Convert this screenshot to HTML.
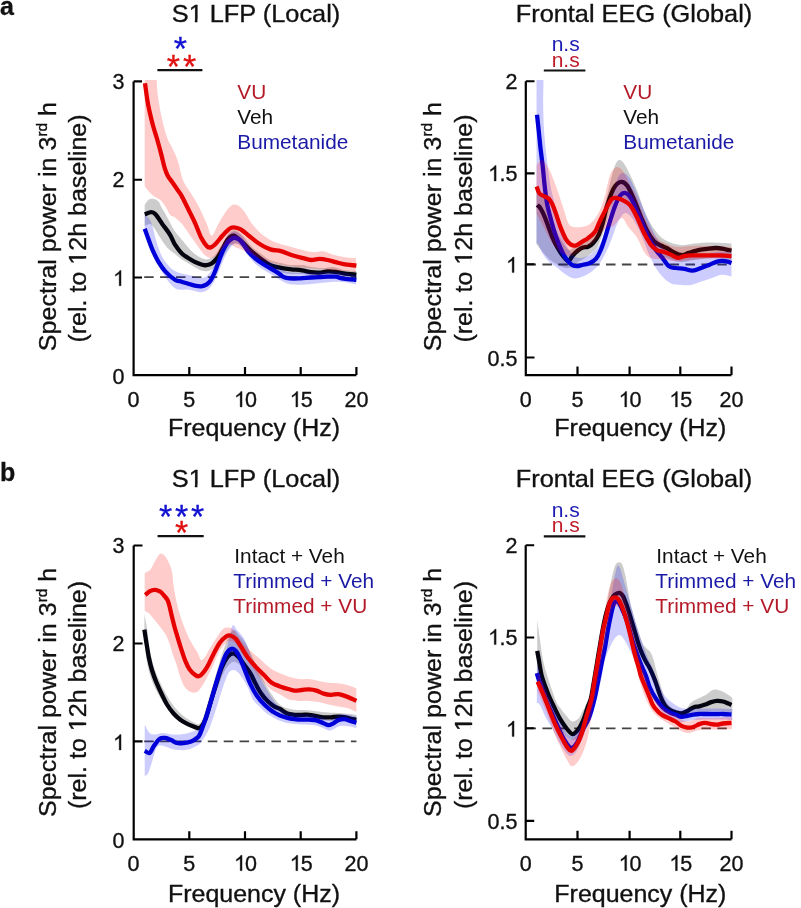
<!DOCTYPE html>
<html><head><meta charset="utf-8">
<style>
html,body{margin:0;padding:0;background:#fff;}
body{width:801px;height:908px;overflow:hidden;}
svg{display:block;font-family:"Liberation Sans",sans-serif;filter:blur(0.55px);}
.ax{stroke:#000;stroke-width:2.2;fill:none;stroke-linecap:butt;}
.tk{font-size:21.5px;fill:#111;stroke:#111;stroke-width:0.35px;}
.lb{font-size:24.6px;fill:#111;stroke:#111;stroke-width:0.35px;}
.lg{font-size:20.8px;stroke-width:0.35px;}
.dash{stroke:#555;stroke-width:1.6;stroke-dasharray:8 5;fill:none;}
.st{font-size:26px;}
</style></head>
<body>
<svg width="801" height="908" viewBox="0 0 801 908">
<defs>
<clipPath id="cAL"><rect x="134.7" y="80" width="222.8" height="294"/></clipPath>
<clipPath id="cAR"><rect x="526.9" y="80" width="205.70000000000005" height="294"/></clipPath>
<clipPath id="cBL"><rect x="134.8" y="540" width="222.7" height="298.20000000000005"/></clipPath>
<clipPath id="cBR"><rect x="526.8" y="540" width="205.80000000000007" height="298.20000000000005"/></clipPath>
</defs>
<g clip-path="url(#cAL)">
<path d="M144.2,277.1 H356.4" stroke="#444" stroke-width="1.8" stroke-dasharray="9.5 6.4" fill="none"/>
<path d="M144.7,205.0 C145.4,204.1 147.2,200.6 148.8,199.6 C150.4,198.6 152.5,198.7 154.1,199.0 C155.7,199.3 157.3,200.3 158.5,201.6 C159.7,202.8 159.8,204.3 161.1,206.5 C162.3,208.7 164.5,212.3 166.0,215.0 C167.5,217.7 168.5,219.8 170.0,222.5 C171.5,225.2 173.1,228.7 175.0,231.5 C176.9,234.3 179.4,236.8 181.6,239.4 C183.8,242.1 186.0,245.0 188.2,247.4 C190.4,249.8 192.6,252.2 194.8,254.0 C197.0,255.8 199.2,257.1 201.4,258.0 C203.6,258.9 205.8,259.8 208.0,259.3 C210.2,258.9 212.6,257.3 214.6,255.3 C216.6,253.3 218.1,250.1 219.9,247.4 C221.7,244.8 223.5,242.0 225.2,239.4 C226.9,236.8 228.2,233.5 230.0,232.0 C231.8,230.5 233.8,229.8 236.0,230.5 C238.2,231.2 240.5,233.4 243.0,236.0 C245.5,238.6 248.2,243.2 251.0,246.0 C253.8,248.8 256.8,250.7 260.0,253.0 C263.2,255.3 266.5,258.3 270.0,260.0 C273.5,261.7 277.5,262.2 281.0,263.0 C284.5,263.8 287.5,264.7 291.0,265.0 C294.5,265.3 298.5,264.7 302.0,265.0 C305.5,265.3 308.5,266.5 312.0,267.0 C315.5,267.5 319.5,268.0 323.0,268.0 C326.5,268.0 329.5,266.7 333.0,267.0 C336.5,267.3 340.2,269.3 344.0,270.0 C347.8,270.7 354.0,270.8 356.0,271.0 L356.0,279.0 C354.0,278.8 347.8,278.6 344.0,278.0 C340.2,277.4 336.5,275.8 333.0,275.5 C329.5,275.2 326.5,276.5 323.0,276.5 C319.5,276.5 315.5,275.9 312.0,275.5 C308.5,275.1 305.5,274.2 302.0,274.0 C298.5,273.8 294.5,274.2 291.0,274.0 C287.5,273.8 284.5,273.2 281.0,272.5 C277.5,271.8 273.5,271.6 270.0,270.0 C266.5,268.4 263.2,265.3 260.0,263.0 C256.8,260.7 253.8,258.5 251.0,256.0 C248.2,253.5 245.5,250.2 243.0,248.0 C240.5,245.8 238.2,243.3 236.0,243.0 C233.8,242.7 231.8,244.2 230.0,246.0 C228.2,247.8 226.7,251.3 225.0,254.0 C223.3,256.6 221.6,259.7 219.9,261.9 C218.2,264.1 216.6,265.7 214.6,267.2 C212.6,268.7 210.2,270.6 208.0,271.1 C205.8,271.7 203.6,271.1 201.4,270.5 C199.2,269.9 197.0,268.4 194.8,267.2 C192.6,266.0 190.4,264.5 188.2,263.2 C186.0,261.9 183.8,260.8 181.6,259.3 C179.4,257.8 177.3,255.8 175.0,254.0 C172.7,252.2 170.0,250.5 168.0,248.5 C166.0,246.5 164.6,244.2 163.0,242.0 C161.4,239.8 159.9,237.2 158.5,235.0 C157.1,232.8 155.9,230.3 154.5,228.5 C153.1,226.7 151.7,224.4 150.1,224.0 C148.5,223.6 145.6,225.7 144.7,226.0 Z" fill="#000" fill-opacity="0.2"/>
<path d="M144.7,214.3 C145.8,214.0 149.4,212.2 151.2,212.2 C153.0,212.2 153.6,212.3 155.5,214.3 C157.4,216.3 160.2,221.1 162.6,224.4 C165.0,227.8 167.7,231.0 169.8,234.4 C171.9,237.8 173.0,241.5 175.0,244.7 C177.0,247.8 179.4,251.1 181.6,253.3 C183.8,255.5 186.0,256.6 188.2,258.0 C190.4,259.4 192.6,260.8 194.8,261.9 C197.0,263.0 199.4,263.9 201.4,264.5 C203.4,265.1 204.9,265.4 206.7,265.2 C208.5,265.0 210.2,264.4 212.0,263.2 C213.8,262.0 215.5,260.3 217.3,257.9 C219.1,255.5 220.8,251.8 222.6,248.7 C224.3,245.6 226.0,241.6 227.8,239.4 C229.7,237.2 231.2,235.2 233.7,235.7 C236.1,236.2 239.6,239.8 242.5,242.4 C245.4,245.0 248.3,248.6 251.2,251.2 C254.1,253.8 256.8,255.9 260.0,258.2 C263.2,260.5 266.9,263.6 270.4,265.2 C273.9,266.8 277.5,267.1 281.0,267.8 C284.5,268.5 287.9,268.9 291.4,269.3 C294.9,269.7 298.6,269.9 301.9,270.4 C305.2,270.9 308.3,271.8 311.2,272.2 C314.1,272.6 316.7,272.7 319.4,272.6 C322.1,272.5 324.8,271.5 327.5,271.4 C330.2,271.3 332.9,271.5 335.6,271.8 C338.3,272.1 340.2,272.9 343.7,273.4 C347.2,273.9 354.3,274.4 356.4,274.6" stroke="#050510" stroke-width="4.3" fill="none" stroke-linejoin="round" stroke-linecap="butt"/>
<path d="M144.7,215.7 C145.2,216.0 146.9,216.4 148.0,217.5 C149.1,218.6 150.1,219.9 151.0,222.0 C151.9,224.1 152.7,227.0 153.5,230.0 C154.3,233.0 154.9,236.3 156.0,240.0 C157.1,243.7 158.4,248.3 160.0,252.0 C161.6,255.7 163.0,258.8 165.5,262.0 C168.0,265.2 171.2,268.9 175.0,271.1 C178.8,273.3 183.8,274.0 188.2,275.1 C192.6,276.2 198.3,277.7 201.4,277.8 C204.5,277.9 205.3,277.3 207.0,276.0 C208.7,274.7 210.0,272.3 211.5,270.0 C213.0,267.7 214.6,265.0 216.0,262.0 C217.4,259.0 218.7,255.2 220.0,252.0 C221.3,248.8 222.5,245.8 224.0,243.0 C225.5,240.2 227.2,236.9 229.0,235.0 C230.8,233.1 232.6,231.5 234.6,231.5 C236.6,231.5 238.8,232.8 241.0,235.0 C243.2,237.2 245.6,242.1 248.0,245.0 C250.4,247.9 252.9,250.3 255.4,252.5 C257.9,254.7 260.4,256.3 263.0,258.0 C265.6,259.7 268.2,261.0 270.8,262.5 C273.4,264.0 276.0,265.5 278.5,267.0 C281.0,268.5 283.4,270.6 286.0,271.5 C288.6,272.4 290.8,272.3 294.0,272.5 C297.2,272.7 300.6,272.6 305.4,272.5 C310.2,272.4 317.1,272.1 322.9,272.0 C328.7,271.9 334.9,271.5 340.4,272.0 C345.9,272.5 353.5,274.5 356.1,275.0 L356.1,284.4 C353.5,284.0 345.9,282.1 340.4,281.8 C334.9,281.5 328.7,282.2 322.9,282.7 C317.1,283.1 310.2,284.2 305.4,284.5 C300.6,284.8 297.2,284.7 294.0,284.5 C290.8,284.3 288.9,284.1 286.3,283.2 C283.7,282.3 281.1,280.5 278.5,279.0 C275.9,277.5 273.4,275.6 270.8,274.0 C268.2,272.4 265.6,271.2 263.0,269.5 C260.4,267.8 257.9,266.3 255.4,264.0 C252.9,261.7 250.4,258.5 248.0,255.5 C245.6,252.5 243.2,247.9 241.0,246.0 C238.8,244.1 236.8,243.2 234.6,244.0 C232.4,244.8 229.9,248.2 228.0,251.0 C226.1,253.8 224.5,257.7 223.0,261.0 C221.5,264.3 220.4,267.8 219.0,271.0 C217.6,274.2 216.2,277.5 214.6,280.4 C213.0,283.3 211.5,286.3 209.3,288.3 C207.1,290.3 204.9,292.1 201.4,292.3 C197.9,292.5 192.6,290.3 188.2,289.6 C183.8,288.9 179.3,291.1 175.0,288.3 C170.7,285.5 166.1,278.4 162.6,273.0 C159.1,267.6 157.0,262.0 154.0,255.8 C151.0,249.6 146.2,239.3 144.7,236.0 Z" fill="#0000ff" fill-opacity="0.2"/>
<path d="M144.7,228.7 C145.3,230.4 147.0,235.1 148.3,238.7 C149.6,242.3 150.9,246.3 152.6,250.1 C154.3,253.9 156.2,258.0 158.3,261.6 C160.5,265.2 162.7,268.6 165.5,271.6 C168.3,274.6 172.3,278.0 175.0,279.7 C177.7,281.4 179.4,281.0 181.6,281.7 C183.8,282.4 186.0,283.0 188.2,283.7 C190.4,284.4 192.6,285.3 194.8,285.7 C197.0,286.1 199.4,286.5 201.4,286.3 C203.4,286.1 205.1,285.4 206.7,284.4 C208.2,283.4 209.4,282.4 210.7,280.4 C212.0,278.4 213.3,275.6 214.6,272.5 C215.9,269.4 217.3,265.4 218.6,261.9 C219.9,258.4 221.1,254.6 222.6,251.3 C224.1,248.0 226.1,244.3 227.8,242.1 C229.6,239.9 231.8,238.8 233.1,238.1 C234.4,237.4 234.1,237.6 235.4,238.0 C236.7,238.4 238.6,238.6 240.7,240.7 C242.8,242.8 245.2,247.8 247.7,250.8 C250.1,253.8 252.8,256.3 255.4,258.5 C258.0,260.7 260.5,262.3 263.1,264.0 C265.7,265.7 268.2,267.1 270.8,268.6 C273.4,270.1 276.6,271.9 278.5,273.2 C280.4,274.5 281.1,275.5 282.4,276.3 C283.7,277.1 284.4,277.4 286.3,277.8 C288.2,278.2 291.7,278.5 294.0,278.6 C296.3,278.7 297.1,278.5 300.0,278.3 C302.9,278.1 308.0,277.7 311.2,277.5 C314.4,277.3 316.7,277.2 319.4,277.1 C322.1,277.0 324.8,276.8 327.5,276.7 C330.2,276.6 332.9,276.4 335.6,276.7 C338.3,277.0 340.2,278.2 343.7,278.7 C347.2,279.2 354.3,279.7 356.4,279.9" stroke="#0000d8" stroke-width="4.3" fill="none" stroke-linejoin="round" stroke-linecap="butt"/>
<path d="M144.7,70.0 C146.4,70.0 152.7,65.9 154.9,70.0 C157.1,74.1 156.6,86.7 157.7,94.5 C158.8,102.3 159.9,109.4 161.5,116.6 C163.1,123.8 165.2,132.2 167.1,137.5 C168.9,142.8 170.8,144.5 172.6,148.5 C174.4,152.5 176.4,156.4 178.1,161.7 C179.8,166.9 180.8,174.8 182.9,180.0 C185.0,185.2 188.2,188.8 190.9,193.2 C193.6,197.6 196.2,201.3 198.8,206.4 C201.4,211.5 204.7,218.8 206.7,223.6 C208.7,228.4 209.5,233.4 210.7,235.0 C211.9,236.6 212.7,234.9 214.0,233.0 C215.3,231.1 216.3,227.6 218.6,223.6 C220.9,219.6 225.1,212.2 227.8,209.0 C230.5,205.8 232.2,204.5 234.6,204.5 C237.0,204.5 239.4,205.8 242.5,209.2 C245.6,212.6 249.5,220.6 253.0,225.0 C256.5,229.4 259.7,232.6 263.5,235.5 C267.3,238.4 271.6,240.8 275.7,242.5 C279.8,244.2 283.9,244.8 288.0,246.0 C292.1,247.2 296.1,248.4 300.2,249.4 C304.3,250.4 308.6,251.7 312.4,252.0 C316.2,252.3 319.4,250.8 322.9,251.2 C326.4,251.6 329.6,253.7 333.4,254.7 C337.2,255.7 341.8,256.7 345.6,257.3 C349.4,257.9 354.4,258.1 356.1,258.2 L356.1,272.0 C353.4,271.8 345.5,271.4 340.0,271.0 C334.5,270.6 327.7,269.9 323.0,269.5 C318.3,269.1 315.8,268.8 312.0,268.5 C308.2,268.2 303.7,267.8 300.0,267.5 C296.3,267.2 293.3,266.9 290.0,266.5 C286.7,266.1 283.3,265.7 280.0,265.0 C276.7,264.3 273.3,263.5 270.0,262.5 C266.7,261.5 263.3,260.5 260.0,259.0 C256.7,257.5 253.3,255.2 250.0,253.5 C246.7,251.8 242.5,250.1 240.0,249.0 C237.5,247.9 236.6,247.8 235.0,247.0 C233.4,246.2 232.1,244.7 230.5,244.5 C228.9,244.3 227.2,244.4 225.2,246.0 C223.2,247.6 220.8,252.0 218.6,254.0 C216.4,256.0 214.0,257.6 212.0,258.0 C210.0,258.4 208.5,257.7 206.7,256.6 C204.9,255.5 203.4,253.7 201.4,251.3 C199.4,248.9 197.0,245.2 194.8,242.1 C192.6,239.0 190.4,235.9 188.2,232.8 C186.0,229.7 183.8,226.2 181.6,223.6 C179.4,221.0 176.9,219.0 175.0,217.5 C173.1,216.0 171.4,216.4 170.0,214.8 C168.6,213.2 167.9,210.5 166.4,208.2 C164.9,205.8 162.8,202.4 161.1,200.7 C159.4,199.0 158.0,198.8 156.5,197.8 C155.0,196.9 153.7,196.2 152.3,195.0 C150.9,193.8 149.3,192.0 148.0,190.5 C146.7,189.0 145.2,186.8 144.7,186.0 Z" fill="#ff0000" fill-opacity="0.2"/>
<path d="M145.0,83.3 C145.4,86.0 146.5,94.8 147.3,99.8 C148.1,104.8 148.9,108.6 149.9,113.0 C150.9,117.4 152.0,121.9 153.2,126.3 C154.4,130.7 155.9,134.9 157.2,139.5 C158.5,144.1 160.0,149.5 161.2,154.1 C162.4,158.7 163.4,163.7 164.5,167.3 C165.6,170.9 166.3,173.0 167.6,175.5 C168.9,178.0 170.8,180.0 172.5,182.5 C174.2,185.0 176.5,188.3 178.0,190.5 C179.5,192.7 179.9,192.8 181.6,195.9 C183.3,199.0 186.0,204.6 188.2,209.0 C190.4,213.4 192.6,217.5 194.8,222.3 C197.0,227.2 199.4,234.2 201.4,238.1 C203.4,242.0 205.1,244.4 206.7,246.0 C208.2,247.6 209.1,247.8 210.7,247.4 C212.2,247.0 214.0,245.4 216.0,243.4 C218.0,241.4 220.4,237.9 222.6,235.5 C224.8,233.1 227.3,230.3 229.2,228.9 C231.0,227.5 231.8,227.2 233.7,227.3 C235.6,227.4 238.1,227.8 240.7,229.3 C243.3,230.8 246.3,233.8 249.5,236.3 C252.7,238.8 256.5,242.0 260.0,244.2 C263.5,246.4 266.9,248.2 270.4,249.4 C273.9,250.6 277.4,250.3 280.9,251.2 C284.4,252.1 287.9,253.9 291.4,255.0 C294.9,256.1 298.6,257.0 301.9,257.8 C305.2,258.6 308.3,259.8 311.2,260.0 C314.1,260.2 316.7,258.8 319.4,258.8 C322.1,258.8 324.8,259.4 327.5,260.0 C330.2,260.6 332.9,261.4 335.6,262.1 C338.3,262.8 340.2,263.5 343.7,264.1 C347.2,264.7 354.3,265.4 356.4,265.7" stroke="#e60000" stroke-width="4.3" fill="none" stroke-linejoin="round" stroke-linecap="butt"/>
</g>
<g clip-path="url(#cAR)">
<path d="M526.5,264.5 H731.5" stroke="#444" stroke-width="1.8" stroke-dasharray="9.5 6.4" fill="none"/>
<path d="M536.5,190.0 C537.4,190.8 540.1,191.7 542.0,195.0 C543.9,198.3 545.8,204.5 548.0,210.0 C550.2,215.5 552.5,222.5 555.0,228.0 C557.5,233.5 560.5,239.3 563.0,243.0 C565.5,246.7 567.5,250.0 570.0,250.0 C572.5,250.0 575.0,245.0 578.0,243.0 C581.0,241.0 584.7,241.0 588.0,238.0 C591.3,235.0 595.0,231.3 598.0,225.0 C601.0,218.7 603.7,208.3 606.0,200.0 C608.3,191.7 610.2,181.4 612.0,175.0 C613.8,168.6 615.2,164.1 616.9,161.8 C618.5,159.5 619.9,159.3 621.9,161.0 C623.9,162.7 626.2,167.0 628.7,171.9 C631.2,176.8 634.3,183.5 637.1,190.5 C639.9,197.5 642.4,207.2 645.5,214.0 C648.6,220.8 652.4,226.7 655.6,231.0 C658.9,235.3 660.9,237.7 665.0,240.0 C669.1,242.3 675.2,244.4 680.0,245.0 C684.8,245.6 688.8,243.9 694.0,243.5 C699.2,243.1 704.8,242.5 711.0,242.5 C717.2,242.5 728.1,243.3 731.5,243.5 L731.5,260.0 C728.1,259.7 717.2,258.0 711.0,258.0 C704.8,258.0 699.0,259.3 694.0,260.0 C689.0,260.7 685.5,262.3 681.0,262.0 C676.5,261.7 671.3,259.7 667.0,258.0 C662.7,256.3 658.2,254.3 655.0,252.0 C651.8,249.7 650.3,248.0 648.0,244.0 C645.7,240.0 643.3,233.3 641.0,228.0 C638.7,222.7 636.3,216.7 634.0,212.0 C631.7,207.3 629.3,202.3 627.0,200.0 C624.7,197.7 622.3,197.5 620.0,198.0 C617.7,198.5 615.3,198.7 613.0,203.0 C610.7,207.3 608.5,216.8 606.0,224.0 C603.5,231.2 601.0,240.7 598.0,246.0 C595.0,251.3 591.3,253.3 588.0,256.0 C584.7,258.7 580.7,260.2 578.0,262.0 C575.3,263.8 574.0,266.0 572.0,267.0 C570.0,268.0 568.0,268.2 566.0,268.0 C564.0,267.8 562.2,267.0 560.0,266.0 C557.8,265.0 555.2,263.5 553.0,262.0 C550.8,260.5 549.0,259.0 547.0,257.0 C545.0,255.0 542.8,252.2 541.0,250.0 C539.2,247.8 537.2,245.0 536.5,244.0 Z" fill="#000" fill-opacity="0.2"/>
<path d="M537.2,205.0 C537.8,205.6 539.3,206.4 540.5,208.3 C541.7,210.2 543.2,213.2 544.5,216.3 C545.8,219.4 547.2,223.4 548.5,226.9 C549.8,230.4 550.9,233.9 552.4,237.4 C553.9,240.9 555.9,244.9 557.7,248.0 C559.5,251.1 561.2,253.8 563.0,256.0 C564.8,258.2 566.8,261.2 568.3,261.2 C569.8,261.2 570.8,257.8 572.3,256.0 C573.8,254.2 575.8,252.1 577.6,250.7 C579.4,249.3 581.1,248.1 582.9,247.4 C584.6,246.7 586.4,247.5 588.1,246.7 C589.9,245.9 591.6,244.7 593.4,242.7 C595.2,240.7 597.1,238.2 598.7,234.8 C600.3,231.4 601.6,226.8 603.0,222.0 C604.4,217.2 605.2,211.5 607.0,206.0 C608.8,200.5 611.3,192.8 613.5,188.8 C615.7,184.8 618.0,182.6 620.2,182.0 C622.5,181.4 624.8,182.6 627.0,185.4 C629.2,188.2 631.5,193.8 633.7,198.9 C636.0,204.0 638.2,210.5 640.5,215.8 C642.8,221.2 645.0,226.8 647.2,231.0 C649.5,235.2 651.8,238.7 654.0,241.1 C656.2,243.5 658.5,244.3 660.7,245.5 C663.0,246.7 665.2,247.3 667.5,248.5 C669.8,249.7 672.3,251.5 674.2,252.5 C676.1,253.5 677.2,254.1 678.7,254.5 C680.2,254.9 681.8,255.2 683.4,255.0 C685.0,254.8 685.8,253.9 688.1,253.1 C690.5,252.3 694.4,251.0 697.5,250.3 C700.6,249.6 703.7,249.3 706.8,248.9 C709.9,248.5 713.1,247.9 716.2,248.0 C719.3,248.1 723.0,248.9 725.5,249.3 C728.0,249.8 730.5,250.5 731.5,250.7" stroke="#050510" stroke-width="4.3" fill="none" stroke-linejoin="round" stroke-linecap="butt"/>
<path d="M536.5,70.0 C537.6,70.0 541.9,64.2 543.0,70.0 C544.1,75.8 543.0,94.8 543.2,105.0 C543.4,115.2 543.5,122.6 544.1,131.4 C544.7,140.2 545.7,149.1 546.7,157.9 C547.7,166.7 549.2,177.8 550.3,184.3 C551.3,190.8 551.8,191.7 553.0,197.0 C554.2,202.3 556.0,209.8 557.7,216.3 C559.4,222.8 561.2,230.6 563.0,236.1 C564.8,241.6 566.1,245.8 568.3,249.3 C570.5,252.8 573.6,256.0 576.2,257.3 C578.9,258.6 581.6,258.0 584.2,257.3 C586.9,256.6 589.5,255.5 592.1,253.3 C594.7,251.1 597.7,247.9 600.0,244.0 C602.3,240.1 604.3,235.3 606.0,230.0 C607.7,224.7 608.7,218.7 610.0,212.0 C611.3,205.3 612.3,196.3 614.0,190.0 C615.7,183.7 617.8,176.2 620.2,174.0 C622.7,171.8 625.9,173.7 628.7,177.0 C631.5,180.3 634.4,188.0 637.1,193.8 C639.8,199.6 642.0,205.1 645.0,212.0 C648.0,218.9 651.2,228.3 655.0,235.0 C658.8,241.7 662.6,248.3 667.5,252.0 C672.4,255.7 678.7,256.5 684.3,257.0 C689.9,257.5 695.6,255.8 701.2,255.0 C706.8,254.2 713.0,252.5 718.0,252.0 C723.0,251.5 729.2,252.0 731.5,252.0 L731.5,276.5 C729.8,276.2 724.8,274.5 721.4,274.8 C718.0,275.1 714.7,277.1 711.3,278.2 C707.9,279.3 704.6,280.4 701.2,281.5 C697.8,282.6 694.5,284.3 691.1,284.9 C687.7,285.5 684.3,285.2 680.9,284.9 C677.5,284.6 674.2,284.9 670.8,283.2 C667.4,281.5 664.1,279.0 660.7,274.8 C657.3,270.6 654.1,265.1 650.6,258.0 C647.1,250.9 643.1,238.7 640.0,232.0 C636.9,225.3 634.5,221.2 632.0,218.0 C629.5,214.8 627.3,212.3 625.0,213.0 C622.7,213.7 620.2,217.8 618.0,222.0 C615.8,226.2 613.7,233.7 612.0,238.0 C610.3,242.3 609.5,244.7 608.0,248.0 C606.5,251.3 604.8,254.9 603.0,258.0 C601.2,261.1 599.6,264.0 597.4,266.5 C595.1,269.0 592.1,271.3 589.5,273.1 C586.9,274.9 584.1,276.2 581.5,277.1 C578.9,278.0 576.2,278.8 573.6,278.4 C571.0,278.0 568.4,276.2 565.7,274.5 C563.1,272.8 560.4,269.9 557.7,267.9 C555.1,265.9 552.2,264.8 549.8,262.6 C547.4,260.4 545.2,257.7 543.2,254.6 C541.2,251.5 539.0,245.8 537.9,244.0 C536.8,242.2 536.7,244.0 536.5,244.0 Z" fill="#0000ff" fill-opacity="0.2"/>
<path d="M537.0,114.7 C537.3,117.5 538.2,125.7 538.8,131.4 C539.4,137.1 539.9,143.1 540.6,149.0 C541.3,154.9 542.1,160.8 542.8,166.7 C543.4,172.6 543.8,178.0 544.5,184.3 C545.2,190.6 546.0,198.2 547.2,204.4 C548.4,210.6 550.1,216.3 551.5,221.6 C552.9,226.9 554.1,231.2 555.8,236.0 C557.5,240.8 559.6,246.2 561.5,250.3 C563.4,254.4 565.3,257.8 567.2,260.3 C569.1,262.8 571.1,264.6 573.0,265.5 C574.9,266.4 577.0,266.1 578.7,266.0 C580.4,265.9 581.2,265.3 583.0,264.8 C584.8,264.3 587.3,264.2 589.5,263.2 C591.7,262.2 594.2,260.9 596.1,258.6 C598.0,256.3 599.5,253.0 601.0,249.5 C602.5,246.0 603.6,242.5 605.1,237.7 C606.6,232.9 608.4,226.2 610.1,220.8 C611.8,215.5 613.5,209.8 615.2,205.6 C616.9,201.4 618.5,197.6 620.2,195.5 C621.9,193.4 623.6,192.7 625.3,193.0 C627.0,193.3 628.7,194.8 630.4,197.2 C632.1,199.6 633.4,203.1 635.4,207.3 C637.4,211.5 640.0,217.4 642.2,222.5 C644.5,227.6 646.7,233.2 648.9,237.7 C651.1,242.2 653.4,246.1 655.6,249.5 C657.9,252.9 660.1,255.1 662.4,257.9 C664.6,260.7 666.9,264.7 669.1,266.4 C671.4,268.1 673.4,267.6 675.9,268.0 C678.4,268.4 681.5,268.5 684.3,268.9 C687.1,269.3 689.9,270.8 692.7,270.6 C695.5,270.5 698.4,269.0 701.2,268.0 C704.0,267.0 706.8,265.8 709.6,264.7 C712.4,263.6 715.2,261.9 718.0,261.3 C720.8,260.7 724.2,261.0 726.5,261.3 C728.8,261.6 730.7,262.7 731.5,263.0" stroke="#0000d8" stroke-width="4.3" fill="none" stroke-linejoin="round" stroke-linecap="butt"/>
<path d="M536.5,165.0 C537.4,164.2 540.0,159.5 542.0,160.0 C544.0,160.5 546.1,163.5 548.5,168.0 C550.9,172.5 554.0,180.7 556.4,187.2 C558.8,193.7 561.0,201.1 563.0,207.0 C565.0,212.9 566.5,219.6 568.3,222.9 C570.1,226.2 571.4,226.2 573.6,226.9 C575.8,227.6 578.9,227.4 581.5,226.9 C584.1,226.4 586.9,226.2 589.5,224.2 C592.1,222.2 595.0,219.2 597.4,215.0 C599.8,210.8 601.9,205.7 604.0,199.0 C606.1,192.3 608.0,180.3 610.1,175.0 C612.2,169.7 614.6,167.5 616.9,167.0 C619.1,166.5 621.4,169.0 623.6,172.0 C625.8,175.0 627.8,180.7 630.0,185.0 C632.2,189.3 634.5,192.5 637.0,198.0 C639.5,203.5 642.0,211.7 645.0,218.0 C648.0,224.3 651.7,231.8 655.0,236.0 C658.3,240.2 661.3,241.2 665.0,243.0 C668.7,244.8 672.7,246.5 677.0,247.0 C681.3,247.5 685.3,246.2 691.0,246.0 C696.7,245.8 704.2,245.8 711.0,246.0 C717.8,246.2 728.1,246.8 731.5,247.0 L731.5,258.5 C728.1,258.5 717.8,258.2 711.0,258.5 C704.2,258.8 696.7,259.5 691.0,260.0 C685.3,260.5 681.5,261.6 677.0,261.5 C672.5,261.4 668.4,260.1 664.0,259.5 C659.6,258.9 654.0,259.4 650.6,258.0 C647.2,256.6 646.0,254.6 643.8,251.2 C641.5,247.8 639.6,241.6 637.1,237.7 C634.6,233.8 631.2,230.9 628.7,227.6 C626.2,224.3 624.4,218.3 621.9,218.0 C619.4,217.7 616.1,224.3 613.5,226.0 C610.9,227.7 609.1,225.6 606.0,228.2 C602.9,230.8 598.0,238.3 594.8,241.4 C591.6,244.5 589.4,244.9 586.8,246.7 C584.1,248.5 581.5,250.4 578.9,252.0 C576.3,253.6 573.6,255.7 571.0,256.0 C568.4,256.3 565.2,255.0 563.0,254.0 C560.8,253.0 559.8,251.8 558.0,250.0 C556.2,248.2 554.0,246.0 552.0,243.0 C550.0,240.0 547.8,235.5 546.0,232.0 C544.2,228.5 542.6,225.0 541.0,222.0 C539.4,219.0 537.2,215.3 536.5,214.0 Z" fill="#ff0000" fill-opacity="0.2"/>
<path d="M536.6,186.5 C537.0,187.6 538.1,191.5 539.2,193.1 C540.3,194.7 541.7,194.9 543.2,195.8 C544.8,196.7 547.0,197.0 548.5,198.4 C550.0,199.8 551.1,201.6 552.4,204.4 C553.7,207.2 555.1,211.2 556.4,215.0 C557.7,218.8 558.8,222.9 560.4,226.9 C562.0,230.9 563.9,235.8 565.7,238.8 C567.5,241.8 569.2,243.6 571.0,244.7 C572.8,245.8 574.5,245.8 576.2,245.4 C578.0,245.0 579.5,243.3 581.5,242.1 C583.5,240.9 585.9,239.8 588.1,238.1 C590.3,236.4 592.8,234.9 594.8,232.1 C596.8,229.2 598.0,225.0 600.0,221.0 C602.0,217.0 604.5,211.7 606.5,208.0 C608.5,204.3 610.1,200.6 611.8,198.9 C613.5,197.2 614.9,197.8 616.9,198.1 C618.9,198.4 621.4,199.3 623.6,200.6 C625.9,201.8 628.1,202.8 630.4,205.6 C632.6,208.4 634.9,213.0 637.1,217.5 C639.3,222.0 641.5,228.1 643.8,232.6 C646.0,237.1 648.4,241.4 650.6,244.4 C652.9,247.4 655.0,249.0 657.3,250.3 C659.5,251.6 661.9,251.3 664.1,252.0 C666.4,252.7 668.5,253.6 670.8,254.6 C673.0,255.6 675.4,257.6 677.6,257.9 C679.9,258.2 682.0,256.6 684.3,256.2 C686.5,255.8 688.3,255.5 691.1,255.4 C693.9,255.3 697.8,255.4 701.2,255.4 C704.6,255.4 707.9,255.4 711.3,255.4 C714.7,255.4 718.0,255.3 721.4,255.4 C724.8,255.5 729.8,256.1 731.5,256.2" stroke="#e60000" stroke-width="4.3" fill="none" stroke-linejoin="round" stroke-linecap="butt"/>
</g>
<g clip-path="url(#cBL)">
<path d="M144.2,741.3 H356.4" stroke="#444" stroke-width="1.8" stroke-dasharray="9.5 6.4" fill="none"/>
<path d="M144.4,614.0 C144.8,616.3 146.2,622.8 147.0,628.0 C147.8,633.2 148.2,640.0 149.0,645.0 C149.8,650.0 150.5,653.8 151.5,658.0 C152.5,662.2 153.6,666.0 155.0,670.0 C156.4,674.0 158.2,678.0 160.0,682.0 C161.8,686.0 163.8,690.2 166.0,694.0 C168.2,697.8 170.7,701.8 173.0,705.0 C175.3,708.2 177.7,710.8 180.0,713.0 C182.3,715.2 184.8,717.0 187.0,718.5 C189.2,720.0 191.0,721.1 193.0,722.0 C195.0,722.9 197.3,724.7 199.0,724.0 C200.7,723.3 201.8,720.7 203.0,718.0 C204.2,715.3 204.5,713.0 206.0,708.0 C207.5,703.0 209.8,695.3 212.0,688.0 C214.2,680.7 216.7,671.5 219.0,664.0 C221.3,656.5 223.6,648.7 226.0,643.0 C228.4,637.3 230.9,631.2 233.2,630.0 C235.5,628.8 237.9,633.8 240.0,636.0 C242.1,638.2 243.5,639.7 245.5,643.0 C247.5,646.3 249.8,651.3 252.0,656.0 C254.2,660.7 256.7,666.2 259.0,671.0 C261.3,675.8 263.6,680.7 266.0,685.0 C268.4,689.3 271.0,693.6 273.5,697.0 C276.0,700.4 277.9,703.4 281.0,705.5 C284.1,707.6 288.2,708.6 292.1,709.4 C296.0,710.1 300.1,709.7 304.2,710.0 C308.2,710.3 312.3,710.8 316.4,711.2 C320.4,711.6 324.5,712.1 328.5,712.4 C332.5,712.7 336.0,712.6 340.6,713.0 C345.2,713.4 353.8,714.5 356.4,714.8 L356.4,723.5 C354.5,723.1 349.4,721.4 345.0,721.0 C340.6,720.6 334.8,721.2 330.0,721.0 C325.2,720.8 320.7,719.9 316.0,719.5 C311.3,719.1 306.3,718.8 302.0,718.5 C297.7,718.2 293.5,718.4 290.0,717.5 C286.5,716.6 284.0,714.6 281.0,713.0 C278.0,711.4 274.8,710.0 272.0,708.0 C269.2,706.0 266.7,704.0 264.0,701.0 C261.3,698.0 258.5,693.8 256.0,690.0 C253.5,686.2 251.2,681.7 249.0,678.0 C246.8,674.3 245.3,670.7 243.0,668.0 C240.7,665.3 237.2,662.7 235.0,662.0 C232.8,661.3 231.8,662.3 230.0,664.0 C228.2,665.7 226.2,667.7 224.0,672.0 C221.8,676.3 219.3,683.7 217.0,690.0 C214.7,696.3 211.8,704.7 210.0,710.0 C208.2,715.3 207.2,718.8 206.0,722.0 C204.8,725.2 204.2,727.4 203.0,729.0 C201.8,730.6 200.4,731.5 198.7,731.5 C197.0,731.5 194.9,729.9 193.0,729.0 C191.1,728.1 189.0,727.2 187.0,726.0 C185.0,724.8 183.2,723.6 181.0,722.0 C178.8,720.4 176.3,718.8 174.0,716.5 C171.7,714.2 169.2,711.4 167.0,708.5 C164.8,705.6 163.0,702.4 161.0,699.0 C159.0,695.6 156.8,691.7 155.0,688.0 C153.2,684.3 151.8,680.8 150.5,677.0 C149.2,673.2 148.3,669.2 147.5,665.0 C146.7,660.8 146.0,656.2 145.5,652.0 C145.0,647.8 144.6,642.0 144.4,640.0 Z" fill="#000" fill-opacity="0.2"/>
<path d="M144.4,629.7 C144.6,630.9 145.1,634.6 145.5,637.0 C145.9,639.4 146.0,640.6 146.6,644.0 C147.2,647.4 147.9,652.9 148.8,657.3 C149.7,661.7 150.8,666.3 152.1,670.5 C153.4,674.7 154.8,678.6 156.5,682.6 C158.2,686.6 160.2,691.1 162.0,694.7 C163.8,698.4 165.1,701.4 167.0,704.5 C168.9,707.6 171.4,711.0 173.6,713.5 C175.8,716.0 177.8,717.8 180.0,719.5 C182.2,721.2 184.6,722.5 186.8,723.6 C189.0,724.7 191.0,725.5 193.0,726.3 C195.0,727.0 197.3,728.1 198.7,728.1 C200.1,728.1 200.3,728.1 201.5,726.5 C202.7,724.9 204.1,723.0 205.7,718.7 C207.3,714.5 209.2,707.0 211.0,701.0 C212.8,695.0 214.7,688.7 216.5,683.0 C218.3,677.3 220.2,671.3 222.0,667.0 C223.8,662.7 225.7,659.3 227.5,657.0 C229.3,654.7 231.3,653.4 233.1,653.4 C234.9,653.4 236.7,655.2 238.5,657.0 C240.3,658.8 241.7,661.3 243.7,664.0 C245.7,666.7 248.3,669.9 250.3,673.2 C252.3,676.5 253.8,680.5 255.6,683.8 C257.4,687.1 258.8,690.1 260.8,693.0 C262.8,695.9 265.3,698.8 267.5,701.0 C269.7,703.2 272.0,705.0 274.1,706.3 C276.2,707.6 277.8,707.7 280.0,708.9 C282.2,710.1 284.9,712.6 287.3,713.6 C289.7,714.6 292.1,714.6 294.5,714.8 C296.9,715.0 299.4,714.8 301.8,714.8 C304.2,714.8 306.7,714.6 309.1,714.8 C311.5,715.0 314.0,715.7 316.4,716.1 C318.8,716.5 321.2,717.1 323.6,717.3 C326.0,717.5 328.5,717.4 330.9,717.3 C333.3,717.2 335.8,716.7 338.2,716.7 C340.6,716.7 343.1,716.9 345.5,717.3 C347.9,717.7 350.9,718.7 352.7,719.1 C354.5,719.5 355.8,719.6 356.4,719.7" stroke="#050510" stroke-width="4.3" fill="none" stroke-linejoin="round" stroke-linecap="butt"/>
<path d="M144.7,724.4 C145.5,725.8 147.9,731.3 149.7,733.0 C151.5,734.7 153.3,734.4 155.5,734.4 C157.7,734.4 160.0,733.0 162.6,733.0 C165.2,733.0 168.3,734.2 171.2,734.4 C174.1,734.6 176.9,734.6 179.8,734.4 C182.7,734.2 185.6,733.7 188.4,733.0 C191.2,732.3 195.0,731.1 196.9,730.1 C198.8,729.1 198.5,729.4 200.0,727.0 C201.5,724.6 203.3,721.7 205.7,716.0 C208.1,710.3 211.7,701.4 214.3,693.0 C216.9,684.6 219.3,673.4 221.5,665.8 C223.7,658.2 225.4,653.8 227.2,647.2 C229.0,640.6 230.7,628.9 232.3,626.0 C233.9,623.1 234.9,627.9 236.7,629.7 C238.5,631.5 241.2,634.3 243.0,637.0 C244.8,639.7 245.8,641.7 247.5,646.0 C249.2,650.3 251.1,657.2 253.5,663.0 C255.9,668.8 258.9,675.2 262.0,681.0 C265.1,686.8 268.8,693.3 272.0,698.0 C275.2,702.7 278.0,706.6 281.0,709.0 C284.0,711.4 286.5,711.7 290.0,712.5 C293.5,713.3 297.7,713.6 302.0,714.0 C306.3,714.4 312.3,714.3 316.0,715.0 C319.7,715.7 321.8,717.2 324.0,718.0 C326.2,718.8 327.3,720.0 329.0,720.0 C330.7,720.0 332.2,718.9 334.0,718.0 C335.8,717.1 337.3,715.0 340.0,714.5 C342.7,714.0 347.3,714.6 350.0,715.0 C352.7,715.4 355.3,716.7 356.4,717.0 L356.4,728.0 C355.3,727.8 352.7,726.8 350.0,726.5 C347.3,726.2 342.7,725.6 340.0,726.0 C337.3,726.4 335.8,728.2 334.0,729.0 C332.2,729.8 330.7,730.6 329.0,730.5 C327.3,730.4 326.2,729.3 324.0,728.5 C321.8,727.7 319.7,726.2 316.0,725.5 C312.3,724.8 306.3,724.8 302.0,724.5 C297.7,724.2 293.7,724.1 290.0,723.5 C286.3,722.9 284.0,722.6 280.0,720.8 C276.0,719.0 269.4,715.2 266.1,712.9 C262.8,710.6 262.2,709.2 260.0,707.0 C257.8,704.8 255.0,702.9 253.0,699.7 C251.0,696.5 250.0,692.0 248.0,688.0 C246.0,684.0 243.3,679.0 241.0,676.0 C238.7,673.0 236.4,670.6 234.3,670.1 C232.2,669.6 230.5,670.0 228.6,672.9 C226.7,675.8 225.1,681.0 222.9,687.2 C220.8,693.4 218.1,703.0 215.7,710.1 C213.3,717.2 211.0,724.8 208.6,730.1 C206.2,735.4 203.1,739.4 201.2,742.0 C199.2,744.6 199.0,744.6 196.9,745.8 C194.8,747.0 191.2,748.7 188.4,749.4 C185.6,750.1 182.7,750.2 179.8,750.1 C176.9,750.0 174.1,749.4 171.2,748.7 C168.3,748.0 165.0,746.0 162.6,745.8 C160.2,745.6 158.6,744.9 156.9,747.3 C155.2,749.7 154.0,755.8 152.6,760.1 C151.2,764.4 149.6,770.4 148.3,773.0 C147.0,775.6 145.3,775.5 144.7,776.0 Z" fill="#0000ff" fill-opacity="0.2"/>
<path d="M144.7,750.8 C145.5,751.2 148.1,753.8 149.7,753.0 C151.2,752.2 152.3,748.2 154.0,745.8 C155.7,743.4 157.9,740.0 159.8,738.7 C161.7,737.4 163.6,737.8 165.5,738.0 C167.4,738.2 169.3,739.3 171.2,740.1 C173.1,740.9 174.8,742.5 176.9,743.0 C179.1,743.5 181.7,743.2 184.1,743.0 C186.5,742.8 189.1,742.3 191.2,741.5 C193.3,740.7 195.4,739.2 196.9,738.0 C198.4,736.8 198.6,737.1 200.0,734.0 C201.4,730.9 203.5,724.8 205.3,719.5 C207.1,714.2 208.8,708.2 210.6,702.3 C212.4,696.3 214.1,689.8 215.9,683.8 C217.7,677.8 219.4,671.7 221.2,666.6 C223.0,661.5 224.8,656.4 226.5,653.4 C228.2,650.4 230.2,649.2 231.7,648.7 C233.2,648.2 234.4,649.3 235.7,650.7 C237.0,652.1 238.1,654.0 239.7,657.3 C241.2,660.6 243.2,666.2 245.0,670.6 C246.8,675.0 248.3,679.6 250.3,683.8 C252.3,688.0 254.5,692.2 256.9,695.7 C259.3,699.2 262.1,702.4 264.8,705.0 C267.5,707.6 270.3,709.9 272.8,711.6 C275.3,713.4 277.6,714.5 280.0,715.5 C282.4,716.5 284.9,717.3 287.3,717.9 C289.7,718.5 292.1,718.8 294.5,719.1 C296.9,719.4 299.4,719.6 301.8,719.7 C304.2,719.8 306.7,719.6 309.1,719.7 C311.5,719.8 314.0,719.7 316.4,720.3 C318.8,720.9 321.6,722.5 323.6,723.3 C325.6,724.1 326.9,725.2 328.5,725.2 C330.1,725.2 331.7,724.1 333.3,723.3 C334.9,722.5 336.4,721.0 338.2,720.3 C340.0,719.6 342.2,719.0 344.2,719.1 C346.2,719.2 348.3,720.3 350.3,720.9 C352.3,721.5 355.4,722.4 356.4,722.7" stroke="#0000d8" stroke-width="4.3" fill="none" stroke-linejoin="round" stroke-linecap="butt"/>
<path d="M144.7,573.0 C145.6,572.5 148.4,571.7 150.0,570.0 C151.6,568.3 152.7,565.3 154.0,563.0 C155.3,560.7 156.8,557.6 158.0,556.0 C159.2,554.4 159.8,553.5 161.0,553.5 C162.2,553.5 163.7,554.4 165.0,556.0 C166.3,557.6 167.8,560.3 169.0,563.0 C170.2,565.7 171.2,568.1 172.0,572.0 C172.8,575.9 172.8,580.7 173.7,586.4 C174.6,592.1 176.1,600.1 177.6,606.3 C179.1,612.5 180.9,618.0 182.9,623.5 C184.9,629.0 187.1,634.4 189.5,639.3 C191.9,644.1 195.6,649.1 197.5,652.6 C199.4,656.1 199.8,659.3 201.0,660.0 C202.2,660.7 203.7,658.7 205.0,657.0 C206.3,655.3 207.2,653.0 209.0,650.0 C210.8,647.0 213.7,642.2 215.9,638.8 C218.2,635.4 220.5,631.4 222.5,629.5 C224.5,627.6 226.0,627.6 227.8,627.6 C229.6,627.6 231.1,627.6 233.1,629.5 C235.1,631.4 237.0,635.5 239.7,638.8 C242.3,642.1 245.7,646.1 249.0,649.4 C252.3,652.7 256.0,655.5 259.5,658.6 C263.0,661.7 266.7,665.5 270.1,667.9 C273.5,670.3 276.7,671.7 280.0,673.2 C283.3,674.7 286.5,676.0 289.7,677.0 C292.9,678.0 296.2,678.8 299.4,679.1 C302.6,679.5 305.9,678.8 309.1,679.1 C312.3,679.4 315.6,680.3 318.8,680.9 C322.0,681.5 325.3,682.3 328.5,682.7 C331.7,683.1 335.0,682.9 338.2,683.3 C341.4,683.7 344.9,684.4 347.9,685.2 C350.9,686.0 355.0,687.7 356.4,688.2 L356.4,711.8 C355.0,711.2 350.9,709.1 347.9,708.2 C344.9,707.3 341.4,707.0 338.2,706.4 C335.0,705.8 331.7,705.2 328.5,704.5 C325.3,703.8 322.0,702.7 318.8,702.1 C315.6,701.5 312.3,701.1 309.1,700.9 C305.9,700.7 302.6,701.1 299.4,700.9 C296.2,700.7 292.9,700.8 289.7,699.7 C286.5,698.6 283.3,696.2 280.0,694.4 C276.7,692.6 273.5,691.9 270.1,689.0 C266.7,686.1 263.0,681.5 259.5,677.2 C256.0,672.9 252.1,667.2 249.0,663.0 C245.9,658.8 243.2,655.2 241.0,652.0 C238.8,648.8 237.7,645.8 236.0,644.0 C234.3,642.2 232.7,641.2 231.0,641.0 C229.3,640.8 227.9,641.3 226.0,643.0 C224.1,644.7 221.6,647.3 219.5,651.0 C217.4,654.7 215.3,660.7 213.2,665.3 C211.0,669.9 208.8,674.5 206.6,678.5 C204.4,682.5 201.8,686.7 200.0,689.0 C198.2,691.3 197.7,692.1 196.0,692.5 C194.3,692.9 191.6,692.5 189.6,691.4 C187.6,690.3 185.7,688.6 184.0,685.9 C182.3,683.1 180.9,678.6 179.6,674.9 C178.3,671.2 177.4,667.2 176.3,663.9 C175.2,660.6 174.1,658.4 173.0,655.1 C171.9,651.8 171.0,647.5 169.7,644.0 C168.4,640.5 167.0,637.0 165.3,634.1 C163.7,631.2 161.6,628.8 159.8,626.4 C158.0,624.0 156.1,622.0 154.3,619.8 C152.5,617.6 150.4,614.7 148.8,613.2 C147.2,611.7 145.4,611.4 144.7,611.0 Z" fill="#ff0000" fill-opacity="0.2"/>
<path d="M145.2,595.0 C146.0,594.4 148.2,592.0 149.9,591.1 C151.6,590.2 153.4,589.7 155.2,589.8 C156.9,589.9 158.9,590.8 160.4,591.7 C161.9,592.7 162.8,594.1 164.0,595.5 C165.2,596.9 166.5,598.0 167.5,600.0 C168.5,602.0 169.1,604.8 169.8,607.5 C170.5,610.2 171.2,613.6 171.9,616.5 C172.6,619.4 173.3,622.2 174.0,625.0 C174.7,627.8 175.2,629.3 176.3,633.0 C177.4,636.7 179.2,642.8 180.7,647.4 C182.2,652.0 183.7,656.9 185.2,660.6 C186.7,664.3 187.9,667.0 189.6,669.4 C191.2,671.8 193.4,673.8 195.1,674.9 C196.8,676.0 198.1,677.0 200.0,675.8 C201.9,674.6 204.4,671.4 206.6,667.9 C208.8,664.4 211.0,658.9 213.2,654.7 C215.4,650.5 217.6,645.9 219.8,642.8 C222.0,639.7 224.7,637.4 226.5,636.2 C228.3,635.0 228.9,635.1 230.4,635.5 C231.9,635.9 233.9,636.9 235.7,638.8 C237.5,640.7 239.0,643.6 241.0,646.7 C243.0,649.8 245.2,654.0 247.6,657.3 C250.0,660.6 252.9,663.7 255.6,666.6 C258.2,669.5 260.9,671.9 263.5,674.5 C266.1,677.1 268.6,680.5 271.4,682.5 C274.1,684.5 276.9,685.2 280.0,686.4 C283.1,687.6 287.6,688.8 290.0,689.5 C292.4,690.2 292.5,690.5 294.5,690.6 C296.5,690.7 299.4,690.2 301.8,690.0 C304.2,689.8 306.7,689.3 309.1,689.4 C311.5,689.5 314.0,689.9 316.4,690.6 C318.8,691.3 321.2,692.9 323.6,693.6 C326.0,694.3 328.5,694.7 330.9,694.8 C333.3,694.9 335.8,694.0 338.2,694.2 C340.6,694.4 343.1,695.3 345.5,696.1 C347.9,696.9 350.9,698.3 352.7,699.1 C354.5,699.9 355.8,700.6 356.4,700.9" stroke="#e60000" stroke-width="4.3" fill="none" stroke-linejoin="round" stroke-linecap="butt"/>
</g>
<g clip-path="url(#cBR)">
<path d="M526.5,728.4 H731.5" stroke="#444" stroke-width="1.8" stroke-dasharray="9.5 6.4" fill="none"/>
<path d="M537.2,620.0 C537.7,623.3 539.0,633.3 540.0,640.0 C541.0,646.7 541.8,654.2 543.0,660.0 C544.2,665.8 545.5,670.0 547.0,675.0 C548.5,680.0 550.4,685.3 552.0,690.0 C553.6,694.7 555.3,699.9 556.8,703.1 C558.3,706.3 559.5,706.9 561.0,709.0 C562.5,711.1 564.2,713.4 566.1,715.5 C568.0,717.6 570.2,721.1 572.2,721.6 C574.2,722.1 576.8,720.2 578.4,718.6 C580.0,717.0 580.5,714.6 582.0,712.0 C583.5,709.4 585.9,707.1 587.6,703.1 C589.3,699.1 590.6,693.9 592.0,688.0 C593.4,682.1 594.7,675.2 596.0,668.0 C597.3,660.8 598.7,653.0 600.0,645.0 C601.3,637.0 602.7,627.8 604.0,620.0 C605.3,612.2 606.7,605.2 608.0,598.0 C609.3,590.8 610.8,582.3 612.0,577.0 C613.2,571.7 613.9,568.5 615.0,566.0 C616.1,563.5 617.3,562.6 618.5,562.3 C619.7,562.0 620.9,562.0 622.0,564.0 C623.1,566.0 624.0,569.7 625.0,574.0 C626.0,578.3 627.0,584.9 628.0,590.0 C629.0,595.1 629.7,599.8 630.8,604.8 C631.9,609.8 633.5,615.1 634.8,619.7 C636.1,624.3 637.4,628.6 638.7,632.6 C640.0,636.6 641.4,640.9 642.7,643.5 C644.0,646.1 645.4,647.0 646.7,648.5 C648.0,650.0 649.5,650.5 650.6,652.4 C651.8,654.3 652.6,656.7 653.6,660.0 C654.6,663.3 655.6,668.0 656.7,672.0 C657.8,676.0 658.6,678.8 660.2,683.7 C661.8,688.6 663.5,697.1 666.1,701.5 C668.7,705.9 672.4,708.4 675.6,709.8 C678.8,711.2 682.5,711.0 685.1,709.8 C687.7,708.6 688.6,704.7 691.0,702.7 C693.4,700.7 696.7,699.4 699.3,698.0 C701.9,696.6 704.0,695.8 706.4,694.4 C708.8,693.0 711.1,690.3 713.5,689.7 C715.9,689.1 718.3,690.0 720.7,690.8 C723.1,691.6 725.8,693.2 727.8,694.4 C729.8,695.6 731.7,697.4 732.5,698.0 L732.5,713.0 C729.9,712.7 721.6,711.2 717.1,711.0 C712.6,710.8 709.2,711.5 705.2,712.0 C701.2,712.5 697.4,713.3 693.4,714.0 C689.4,714.7 685.1,716.0 681.5,716.0 C677.9,716.0 674.4,715.0 672.0,714.0 C669.6,713.0 668.5,711.8 667.0,710.0 C665.5,708.2 664.3,705.7 663.0,703.0 C661.7,700.3 660.3,697.2 659.0,694.0 C657.7,690.8 656.3,687.5 655.0,684.0 C653.7,680.5 652.3,676.0 651.0,673.0 C649.7,670.0 648.3,668.5 647.0,666.0 C645.7,663.5 644.3,660.8 643.0,658.0 C641.7,655.2 640.3,652.2 639.0,649.0 C637.7,645.8 636.3,642.5 635.0,639.0 C633.7,635.5 632.3,631.8 631.0,628.0 C629.7,624.2 628.2,619.5 627.0,616.0 C625.8,612.5 625.0,609.5 624.0,607.0 C623.0,604.5 622.0,602.2 621.0,601.0 C620.0,599.8 619.2,599.5 618.0,600.0 C616.8,600.5 615.2,602.0 614.0,604.0 C612.8,606.0 612.2,608.2 611.0,612.0 C609.8,615.8 608.3,620.7 607.0,627.0 C605.7,633.3 604.3,642.0 603.0,650.0 C601.7,658.0 600.3,667.5 599.0,675.0 C597.7,682.5 596.5,688.8 595.0,695.0 C593.5,701.2 591.8,706.7 590.0,712.0 C588.2,717.3 586.0,722.8 584.0,727.0 C582.0,731.2 580.0,734.8 578.0,737.0 C576.0,739.2 574.2,740.3 572.2,740.1 C570.2,739.9 568.0,738.0 566.0,736.0 C564.0,734.0 562.2,731.3 560.0,728.0 C557.8,724.7 555.2,720.2 553.0,716.0 C550.8,711.8 549.0,707.3 547.0,703.0 C545.0,698.7 542.6,693.8 541.0,690.0 C539.4,686.2 537.8,681.7 537.2,680.0 Z" fill="#000" fill-opacity="0.2"/>
<path d="M537.2,650.8 C537.5,652.3 538.2,656.1 538.9,660.1 C539.6,664.1 540.4,670.5 541.5,675.0 C542.6,679.5 544.2,683.5 545.5,687.0 C546.8,690.5 547.6,692.8 549.0,696.0 C550.4,699.2 551.9,702.4 553.7,706.2 C555.5,710.0 557.8,715.0 559.9,718.6 C562.0,722.2 564.0,725.2 566.1,727.8 C568.2,730.4 570.4,733.5 572.2,734.0 C574.0,734.5 575.5,732.5 577.0,731.0 C578.5,729.5 579.8,727.3 581.0,725.0 C582.2,722.7 583.3,720.2 584.5,717.0 C585.7,713.8 586.9,709.2 588.0,706.0 C589.1,702.8 590.0,702.2 591.0,698.0 C592.0,693.8 593.0,686.8 594.0,681.0 C595.0,675.2 596.0,669.0 597.0,663.0 C598.0,657.0 599.0,650.8 600.0,645.0 C601.0,639.2 602.0,633.2 603.0,628.0 C604.0,622.8 604.9,618.2 606.0,614.0 C607.1,609.8 608.2,606.0 609.5,603.0 C610.8,600.0 612.3,597.6 613.5,596.0 C614.7,594.4 615.8,594.0 616.9,593.5 C618.0,593.0 618.9,592.5 619.9,592.9 C620.9,593.3 621.9,594.2 622.9,595.9 C623.9,597.5 624.8,600.2 625.8,602.8 C626.8,605.4 627.8,608.6 628.8,611.7 C629.8,614.9 630.8,618.4 631.8,621.7 C632.8,625.0 633.8,628.3 634.8,631.6 C635.8,634.9 636.7,638.4 637.7,641.5 C638.7,644.6 639.5,647.4 640.7,650.4 C641.9,653.4 643.4,656.8 644.7,659.4 C646.0,662.0 647.5,664.1 648.7,666.3 C649.9,668.5 650.6,670.0 651.8,672.7 C653.0,675.4 654.6,679.5 655.8,682.6 C656.9,685.7 657.7,688.7 658.7,691.5 C659.7,694.3 660.5,696.9 661.7,699.4 C662.9,701.9 664.2,704.6 665.7,706.4 C667.2,708.2 669.0,709.4 670.6,710.4 C672.2,711.4 673.8,711.7 675.6,712.2 C677.4,712.7 679.5,713.6 681.5,713.4 C683.5,713.2 685.5,712.0 687.5,711.0 C689.5,710.0 691.4,708.2 693.4,707.4 C695.4,706.6 697.3,706.8 699.3,706.3 C701.3,705.8 703.2,705.2 705.2,704.5 C707.2,703.8 709.2,702.7 711.2,702.1 C713.2,701.5 715.1,701.0 717.1,700.9 C719.1,700.8 721.2,701.1 723.0,701.5 C724.8,701.9 726.4,702.7 727.8,703.3 C729.2,703.9 730.9,704.7 731.5,705.0" stroke="#050510" stroke-width="4.3" fill="none" stroke-linejoin="round" stroke-linecap="butt"/>
<path d="M536.8,665.0 C537.3,666.2 538.5,668.2 540.0,672.0 C541.5,675.8 544.0,682.8 546.0,688.0 C548.0,693.2 550.0,698.2 552.0,703.0 C554.0,707.8 556.0,712.7 558.0,717.0 C560.0,721.3 562.0,725.8 564.0,729.0 C566.0,732.2 568.0,735.3 570.0,736.0 C572.0,736.7 574.0,735.5 576.0,733.0 C578.0,730.5 580.0,725.8 582.0,721.0 C584.0,716.2 586.0,710.0 588.0,704.0 C590.0,698.0 592.3,691.0 594.0,685.0 C595.7,679.0 596.7,673.8 598.0,668.0 C599.3,662.2 600.7,656.3 602.0,650.0 C603.3,643.7 604.7,637.5 606.0,630.0 C607.3,622.5 608.8,612.5 610.0,605.0 C611.2,597.5 611.8,591.3 613.0,585.0 C614.2,578.7 615.8,569.8 617.0,567.0 C618.2,564.2 619.0,566.2 620.0,568.0 C621.0,569.8 621.8,574.0 623.0,578.0 C624.2,582.0 625.7,587.3 627.0,592.0 C628.3,596.7 629.7,601.3 631.0,606.0 C632.3,610.7 633.7,615.5 635.0,620.0 C636.3,624.5 637.7,628.8 639.0,633.0 C640.3,637.2 641.7,641.2 643.0,645.0 C644.3,648.8 645.5,652.3 647.0,656.0 C648.5,659.7 650.3,663.0 652.0,667.0 C653.7,671.0 655.2,675.7 657.0,680.0 C658.8,684.3 660.8,689.5 663.0,693.0 C665.2,696.5 666.9,698.5 670.0,701.0 C673.1,703.5 677.6,706.8 681.5,708.0 C685.4,709.2 689.4,708.4 693.4,708.5 C697.4,708.6 701.2,708.5 705.2,708.5 C709.2,708.5 712.6,708.4 717.1,708.5 C721.6,708.6 729.9,708.9 732.5,709.0 L732.5,720.0 C729.9,719.9 721.6,719.6 717.1,719.5 C712.6,719.4 709.2,719.4 705.2,719.5 C701.2,719.6 697.4,719.6 693.4,720.0 C689.4,720.4 685.4,722.3 681.5,722.0 C677.6,721.7 673.1,719.5 670.0,718.0 C666.9,716.5 665.2,715.2 663.0,713.0 C660.8,710.8 659.0,708.2 657.0,705.0 C655.0,701.8 652.8,697.7 651.0,694.0 C649.2,690.3 647.7,686.5 646.0,683.0 C644.3,679.5 642.5,676.0 641.0,673.0 C639.5,670.0 637.9,667.5 636.7,665.0 C635.5,662.5 635.1,660.8 633.8,658.0 C632.5,655.2 630.5,651.2 628.8,648.0 C627.1,644.8 625.3,641.2 623.8,639.0 C622.3,636.8 621.2,635.3 619.9,635.0 C618.6,634.7 617.4,635.3 615.9,637.0 C614.4,638.7 612.8,641.3 611.0,645.0 C609.2,648.7 606.5,654.4 605.0,659.4 C603.5,664.4 603.2,669.2 602.0,675.0 C600.8,680.8 599.3,688.5 598.0,694.0 C596.7,699.5 595.7,703.0 594.0,708.0 C592.3,713.0 590.0,718.7 588.0,724.0 C586.0,729.3 584.0,735.3 582.0,740.0 C580.0,744.7 578.0,749.3 576.0,752.0 C574.0,754.7 572.0,756.3 570.0,756.0 C568.0,755.7 566.0,752.7 564.0,750.0 C562.0,747.3 560.0,743.7 558.0,740.0 C556.0,736.3 554.0,731.7 552.0,728.0 C550.0,724.3 548.0,721.8 546.0,718.0 C544.0,714.2 541.5,707.5 540.0,705.0 C538.5,702.5 537.3,703.3 536.8,703.0 Z" fill="#0000ff" fill-opacity="0.2"/>
<path d="M536.8,673.1 C537.3,674.8 538.4,678.6 539.9,683.1 C541.4,687.6 544.0,695.0 546.0,700.1 C548.0,705.2 550.1,709.3 552.2,713.9 C554.3,718.5 556.4,723.4 558.4,727.8 C560.4,732.2 562.5,736.8 564.5,740.1 C566.5,743.4 568.7,747.3 570.7,747.8 C572.8,748.3 574.8,746.3 576.8,743.2 C578.8,740.1 581.0,733.5 583.0,729.3 C585.0,725.1 587.1,723.0 589.0,718.0 C590.9,713.0 593.0,705.2 594.5,699.0 C596.0,692.8 597.0,686.9 598.2,680.8 C599.4,674.7 600.7,668.1 601.8,662.6 C602.9,657.1 604.0,653.0 605.0,647.5 C606.0,642.0 607.0,635.1 608.0,629.6 C609.0,624.1 610.0,619.0 611.0,614.7 C612.0,610.4 613.0,606.0 613.9,603.8 C614.8,601.6 615.5,601.4 616.4,601.3 C617.2,601.2 618.1,601.7 619.0,603.0 C619.9,604.3 620.9,606.7 622.0,609.0 C623.1,611.3 624.4,614.2 625.5,617.0 C626.6,619.8 627.5,622.7 628.5,626.0 C629.5,629.3 630.5,633.4 631.5,637.0 C632.5,640.6 633.6,643.9 634.8,647.5 C636.0,651.1 637.4,654.9 638.7,658.4 C640.0,661.9 641.5,665.4 642.7,668.3 C643.9,671.2 644.8,672.8 646.0,676.0 C647.2,679.2 648.2,683.8 649.8,687.5 C651.4,691.2 653.6,695.2 655.8,698.5 C657.9,701.8 660.4,705.1 662.7,707.4 C665.0,709.7 667.5,711.1 669.6,712.3 C671.8,713.5 673.6,713.8 675.6,714.6 C677.6,715.4 679.5,716.7 681.5,716.9 C683.5,717.1 685.5,716.2 687.5,715.8 C689.5,715.4 691.4,714.9 693.4,714.6 C695.4,714.3 697.3,714.1 699.3,714.0 C701.3,713.9 703.2,714.0 705.2,714.0 C707.2,714.0 709.2,714.0 711.2,714.0 C713.2,714.0 715.1,714.0 717.1,714.0 C719.1,714.0 720.6,713.9 723.0,714.0 C725.4,714.1 730.1,714.5 731.5,714.6" stroke="#0000d8" stroke-width="4.3" fill="none" stroke-linejoin="round" stroke-linecap="butt"/>
<path d="M537.6,672.0 C538.5,674.0 541.1,679.3 543.0,684.0 C544.9,688.7 547.0,694.8 549.0,700.0 C551.0,705.2 553.0,710.5 555.0,715.0 C557.0,719.5 559.0,723.3 561.0,727.0 C563.0,730.7 565.2,734.8 567.0,737.0 C568.8,739.2 569.8,740.3 571.5,740.0 C573.2,739.7 575.2,737.5 577.0,735.0 C578.8,732.5 580.5,729.2 582.0,725.0 C583.5,720.8 584.5,715.8 586.0,710.0 C587.5,704.2 589.5,696.7 591.0,690.0 C592.5,683.3 593.7,677.0 595.0,670.0 C596.3,663.0 597.7,656.0 599.0,648.0 C600.3,640.0 601.7,630.3 603.0,622.0 C604.3,613.7 605.7,604.5 607.0,598.0 C608.3,591.5 609.7,586.2 611.0,583.0 C612.3,579.8 613.7,579.0 615.0,578.5 C616.3,578.0 617.7,578.1 619.0,580.0 C620.3,581.9 621.7,585.5 623.0,590.0 C624.3,594.5 625.7,602.2 627.0,607.0 C628.3,611.8 629.7,613.8 631.0,619.0 C632.3,624.2 633.7,632.0 635.0,638.0 C636.3,644.0 637.7,649.8 639.0,655.0 C640.3,660.2 641.5,664.2 643.0,669.0 C644.5,673.8 646.3,679.5 648.0,684.0 C649.7,688.5 651.2,692.7 653.0,696.0 C654.8,699.3 656.8,701.7 659.0,704.0 C661.2,706.3 663.3,708.1 666.0,710.0 C668.7,711.9 671.5,713.6 675.0,715.5 C678.5,717.4 683.0,721.1 687.0,721.5 C691.0,721.9 695.0,718.6 699.0,718.0 C703.0,717.4 707.0,718.1 711.0,718.0 C715.0,717.9 719.5,717.7 723.0,717.5 C726.5,717.3 730.5,717.1 732.0,717.0 L732.0,729.0 C730.5,729.1 726.5,729.4 723.0,729.5 C719.5,729.6 715.0,729.4 711.0,729.5 C707.0,729.6 703.0,729.4 699.0,730.0 C695.0,730.6 691.0,733.4 687.0,733.0 C683.0,732.6 677.8,728.9 675.0,727.5 C672.2,726.1 671.8,725.6 670.0,724.5 C668.2,723.4 666.2,722.4 664.0,721.0 C661.8,719.6 659.2,718.0 657.0,716.0 C654.8,714.0 653.0,712.2 651.0,709.0 C649.0,705.8 646.8,701.5 645.0,697.0 C643.2,692.5 641.5,687.2 640.0,682.0 C638.5,676.8 637.3,671.3 636.0,666.0 C634.7,660.7 633.3,655.7 632.0,650.0 C630.7,644.3 629.3,637.3 628.0,632.0 C626.7,626.7 625.3,621.8 624.0,618.0 C622.7,614.2 621.3,611.0 620.0,609.0 C618.7,607.0 617.3,605.8 616.0,606.0 C614.7,606.2 613.3,606.8 612.0,610.0 C610.7,613.2 609.3,618.7 608.0,625.0 C606.7,631.3 605.3,640.5 604.0,648.0 C602.7,655.5 601.3,662.7 600.0,670.0 C598.7,677.3 597.3,685.0 596.0,692.0 C594.7,699.0 593.4,704.2 592.0,712.0 C590.6,719.8 589.6,730.8 587.6,738.6 C585.6,746.4 582.6,754.0 580.0,758.6 C577.4,763.2 574.4,766.1 572.2,766.3 C570.0,766.5 568.9,763.0 567.0,760.0 C565.1,757.0 563.0,752.2 561.0,748.0 C559.0,743.8 557.0,739.8 555.0,735.0 C553.0,730.2 551.0,724.2 549.0,719.0 C547.0,713.8 544.9,708.7 543.0,704.0 C541.1,699.3 538.5,693.2 537.6,691.0 Z" fill="#ff0000" fill-opacity="0.2"/>
<path d="M537.6,681.6 C538.5,683.6 541.1,689.3 543.0,693.9 C544.9,698.5 547.1,704.2 549.1,709.3 C551.1,714.4 553.2,720.1 555.3,724.7 C557.3,729.3 559.3,733.1 561.4,737.0 C563.5,740.9 565.9,745.5 567.6,747.8 C569.3,750.1 570.0,751.4 571.5,750.9 C573.0,750.4 575.1,747.5 576.8,744.7 C578.5,741.9 580.0,738.5 581.5,734.0 C583.0,729.5 584.3,723.8 586.0,718.0 C587.7,712.2 590.1,705.2 591.5,699.0 C592.9,692.8 593.5,686.9 594.5,680.8 C595.5,674.7 596.6,668.6 597.6,662.6 C598.6,656.6 599.6,650.3 600.6,644.5 C601.6,638.7 602.6,632.5 603.5,628.0 C604.4,623.5 605.1,621.6 606.0,617.7 C606.9,613.8 608.0,607.9 609.0,604.8 C610.0,601.6 610.9,600.0 611.9,598.8 C612.9,597.6 613.9,597.4 614.9,597.4 C615.9,597.4 616.9,597.7 617.9,598.8 C618.9,599.9 619.9,601.6 620.9,603.8 C621.9,605.9 622.8,608.7 623.8,611.7 C624.8,614.7 625.8,618.3 626.8,621.7 C627.8,625.1 628.5,628.1 629.5,632.0 C630.5,635.9 631.5,640.8 632.5,645.0 C633.5,649.2 634.5,653.3 635.5,657.0 C636.5,660.7 637.6,663.8 638.5,667.0 C639.4,670.2 640.0,673.3 640.9,676.0 C641.8,678.7 642.8,680.7 643.7,683.0 C644.7,685.3 645.6,687.7 646.6,690.0 C647.6,692.3 648.5,694.7 649.5,697.0 C650.5,699.3 651.3,702.1 652.3,704.0 C653.3,705.9 653.9,706.8 655.4,708.6 C656.9,710.4 659.2,713.0 661.4,714.6 C663.6,716.2 666.1,717.0 668.5,718.1 C670.9,719.2 673.4,720.2 675.6,721.5 C677.8,722.8 679.5,724.8 681.5,725.8 C683.5,726.8 685.5,727.4 687.5,727.6 C689.5,727.8 691.4,727.6 693.4,727.0 C695.4,726.4 697.3,724.8 699.3,724.1 C701.3,723.4 703.2,722.9 705.2,722.9 C707.2,722.9 709.2,723.8 711.2,724.1 C713.2,724.4 715.1,724.7 717.1,724.6 C719.1,724.5 720.6,723.8 723.0,723.5 C725.4,723.2 730.1,723.0 731.5,722.9" stroke="#e60000" stroke-width="4.3" fill="none" stroke-linejoin="round" stroke-linecap="butt"/>
</g>
<!-- panel letters -->
<text x="0" y="14.6" font-size="25" font-weight="bold" fill="#111" stroke="#111" stroke-width="0.3">a</text>
<text x="0" y="481" font-size="25" font-weight="bold" fill="#111" stroke="#111" stroke-width="0.3">b</text>


<!-- stars / n.s -->
<g font-size="34">
<text x="173.8" y="60.4" fill="#1010d0" stroke="#1010d0" stroke-width="0.3">*</text>
<text x="166.8" y="77.6" fill="#e01010" stroke="#e01010" stroke-width="0.3">*</text><text x="183.1" y="77.6" fill="#e01010" stroke="#e01010" stroke-width="0.3">*</text>
<text x="158.9" y="527.5" fill="#1010d0" stroke="#1010d0" stroke-width="0.3">*</text><text x="175" y="527.5" fill="#1010d0" stroke="#1010d0" stroke-width="0.3">*</text><text x="190.9" y="527.5" fill="#1010d0" stroke="#1010d0" stroke-width="0.3">*</text>
<text x="175" y="543.6" fill="#e01010" stroke="#e01010" stroke-width="0.3">*</text>
</g>
<g font-size="21">
<text x="551.7" y="50.9" fill="#1c1cb4">n.s</text>
<text x="551.7" y="66.6" fill="#c01c2a">n.s</text>
<text x="551.7" y="517.1" fill="#1c1cb4">n.s</text>
<text x="551.7" y="532.4" fill="#c01c2a">n.s</text>
</g>
<!-- ROW A -->
<g id="rowA">
<!-- titles -->
<text class="lb" transform="translate(256.0,21.9) scale(1.03,1)" text-anchor="middle">S1 LFP (Local)</text><g transform="translate(256.0,21.9) scale(1.03,1)" fill="#fff"><rect x="-64.44" y="-2.19" width="5.03" height="3.84"/><rect x="-56.87" y="-2.19" width="5.14" height="3.84"/></g>
<text class="lb" transform="translate(634.0,21.9) scale(1.03,1)" text-anchor="middle">Frontal EEG (Global)</text>

<!-- y labels -->
<text class="lb" transform="translate(55.8,226.65) rotate(-90) scale(1.02,1)" text-anchor="middle">Spectral power in 3<tspan font-size="15" dy="-9">rd</tspan><tspan dy="9"> h</tspan></text>
<text class="lb" transform="translate(86,228.5) rotate(-90) scale(1.018,1)" text-anchor="middle">(rel. to 12h baseline)</text><g transform="translate(86,228.5) rotate(-90) scale(1.018,1)" fill="#fff"><rect x="-34.60" y="-2.19" width="5.03" height="3.84"/><rect x="-27.04" y="-2.19" width="5.14" height="3.84"/></g>
<text class="lb" transform="translate(441.2,226.65) rotate(-90) scale(1.02,1)" text-anchor="middle">Spectral power in 3<tspan font-size="15" dy="-9">rd</tspan><tspan dy="9"> h</tspan></text>
<text class="lb" transform="translate(472.3,228.5) rotate(-90) scale(1.018,1)" text-anchor="middle">(rel. to 12h baseline)</text><g transform="translate(472.3,228.5) rotate(-90) scale(1.018,1)" fill="#fff"><rect x="-34.60" y="-2.19" width="5.03" height="3.84"/><rect x="-27.04" y="-2.19" width="5.14" height="3.84"/></g>

<!-- x labels -->
<text class="lb" transform="translate(254,436.2) scale(1.015,1)" text-anchor="middle">Frequency (Hz)</text>
<text class="lb" transform="translate(640.3,436.2) scale(1.015,1)" text-anchor="middle">Frequency (Hz)</text>

<!-- left axes -->
<path class="ax" d="M133.6,81.4 H142 M133.6,81.4 V375.2 H356.4 M133.6,277.5 H142 M133.6,179.75 H142 M189.3,375 V367 M245,375 V367 M300.7,375 V367 M356.4,375 V367"/>
<g class="tk" text-anchor="end">
<text x="124.5" y="88.8">3</text><text x="124.5" y="186.75">2</text></g><path d="M763,0 L583,0 L583,1147 L223,911 L223,1085 C400,1180 560,1320 646,1466 L763,1466 Z" transform="translate(113.04,285.80) scale(0.010498,-0.010498)" fill="#111" stroke="#111" stroke-width="33"/><g class="tk" text-anchor="end"><text x="124.5" y="383.7">0</text>
</g>
<g class="tk" text-anchor="middle">
<text x="133.6" y="406.9">0</text><text x="189.3" y="406.9">5</text></g><path d="M763,0 L583,0 L583,1147 L223,911 L223,1085 C400,1180 560,1320 646,1466 L763,1466 Z" transform="translate(234.04,406.90) scale(0.010498,-0.010498)" fill="#111" stroke="#111" stroke-width="33"/><g class="tk"><text x="245.00" y="406.9">0</text></g><g class="tk" text-anchor="middle"></g><path d="M763,0 L583,0 L583,1147 L223,911 L223,1085 C400,1180 560,1320 646,1466 L763,1466 Z" transform="translate(289.74,406.90) scale(0.010498,-0.010498)" fill="#111" stroke="#111" stroke-width="33"/><g class="tk"><text x="300.70" y="406.9">5</text></g><g class="tk" text-anchor="middle"><text x="356.4" y="406.9">20</text>
</g>

<!-- right axes -->
<path class="ax" d="M525.8,81.25 H534.5 M525.8,81.25 V375.2 H731.5 M525.8,173.4 H534.5 M525.8,264.25 H534.5 M525.8,357.5 H534.5 M577.5,375 V366.5 M629.6,375 V366.5 M680.3,375 V366.5 M731.5,375 V366.5"/>
<g class="tk" text-anchor="end">
<text x="517.5" y="89">2</text></g><path d="M763,0 L583,0 L583,1147 L223,911 L223,1085 C400,1180 560,1320 646,1466 L763,1466 Z" transform="translate(488.11,181.00) scale(0.010498,-0.010498)" fill="#111" stroke="#111" stroke-width="33"/><g class="tk"><text x="499.57" y="181">.5</text></g><g class="tk" text-anchor="end"></g><path d="M763,0 L583,0 L583,1147 L223,911 L223,1085 C400,1180 560,1320 646,1466 L763,1466 Z" transform="translate(506.04,272.50) scale(0.010498,-0.010498)" fill="#111" stroke="#111" stroke-width="33"/><g class="tk" text-anchor="end"><text x="517.5" y="366.2">0.5</text>
</g>
<g class="tk" text-anchor="middle">
<text x="525.8" y="406.9">0</text><text x="577.5" y="406.9">5</text></g><path d="M763,0 L583,0 L583,1147 L223,911 L223,1085 C400,1180 560,1320 646,1466 L763,1466 Z" transform="translate(618.64,406.90) scale(0.010498,-0.010498)" fill="#111" stroke="#111" stroke-width="33"/><g class="tk"><text x="629.60" y="406.9">0</text></g><g class="tk" text-anchor="middle"></g><path d="M763,0 L583,0 L583,1147 L223,911 L223,1085 C400,1180 560,1320 646,1466 L763,1466 Z" transform="translate(669.34,406.90) scale(0.010498,-0.010498)" fill="#111" stroke="#111" stroke-width="33"/><g class="tk"><text x="680.30" y="406.9">5</text></g><g class="tk" text-anchor="middle"><text x="731.5" y="406.9">20</text>
</g>

<!-- legends -->
<g class="lg">
<text x="237.3" y="98.6" fill="#b41a28">VU</text>
<text x="237.3" y="124" fill="#111">Veh</text>
<text x="237.3" y="149.4" fill="#1a1aa6">Bumetanide</text>
<text x="623.3" y="98.6" fill="#b41a28">VU</text>
<text x="623.3" y="124" fill="#111">Veh</text>
<text x="623.3" y="149.4" fill="#1a1aa6">Bumetanide</text>
</g>

<!-- significance -->
<path d="M157.4,70.2 H202.4 M543.8,70.5 H585.4" stroke="#111" stroke-width="2.2"/>
</g>

<!-- ROW B -->
<g id="rowB">
<text class="lb" transform="translate(256.0,486.9) scale(1.03,1)" text-anchor="middle">S1 LFP (Local)</text><g transform="translate(256.0,486.9) scale(1.03,1)" fill="#fff"><rect x="-64.44" y="-2.19" width="5.03" height="3.84"/><rect x="-56.87" y="-2.19" width="5.14" height="3.84"/></g>
<text class="lb" transform="translate(634.0,486.9) scale(1.03,1)" text-anchor="middle">Frontal EEG (Global)</text>
<text class="lb" transform="translate(55.8,692.35) rotate(-90) scale(1.02,1)" text-anchor="middle">Spectral power in 3<tspan font-size="15" dy="-9">rd</tspan><tspan dy="9"> h</tspan></text>
<text class="lb" transform="translate(86,695) rotate(-90) scale(1.018,1)" text-anchor="middle">(rel. to 12h baseline)</text><g transform="translate(86,695) rotate(-90) scale(1.018,1)" fill="#fff"><rect x="-34.60" y="-2.19" width="5.03" height="3.84"/><rect x="-27.04" y="-2.19" width="5.14" height="3.84"/></g>
<text class="lb" transform="translate(441.2,692.35) rotate(-90) scale(1.02,1)" text-anchor="middle">Spectral power in 3<tspan font-size="15" dy="-9">rd</tspan><tspan dy="9"> h</tspan></text>
<text class="lb" transform="translate(472.3,695) rotate(-90) scale(1.018,1)" text-anchor="middle">(rel. to 12h baseline)</text><g transform="translate(472.3,695) rotate(-90) scale(1.018,1)" fill="#fff"><rect x="-34.60" y="-2.19" width="5.03" height="3.84"/><rect x="-27.04" y="-2.19" width="5.14" height="3.84"/></g>
<text class="lb" transform="translate(254,902.2) scale(1.015,1)" text-anchor="middle">Frequency (Hz)</text>
<text class="lb" transform="translate(640.3,902.2) scale(1.015,1)" text-anchor="middle">Frequency (Hz)</text>

<path class="ax" d="M133.7,545.5 H142.5 M133.7,545.5 V839.3 H356.4 M133.7,741.4 H142.5 M133.7,643.5 H142.5 M189.3,839.3 V831.3 M245,839.3 V831.3 M300.7,839.3 V831.3 M356.4,839.3 V831.3"/>
<g class="tk" text-anchor="end">
<text x="124.5" y="553">3</text><text x="124.5" y="651">2</text></g><path d="M763,0 L583,0 L583,1147 L223,911 L223,1085 C400,1180 560,1320 646,1466 L763,1466 Z" transform="translate(113.04,750.00) scale(0.010498,-0.010498)" fill="#111" stroke="#111" stroke-width="33"/><g class="tk" text-anchor="end"><text x="124.5" y="847.7">0</text>
</g>
<g class="tk" text-anchor="middle">
<text x="133.6" y="870.7">0</text><text x="189.3" y="870.7">5</text></g><path d="M763,0 L583,0 L583,1147 L223,911 L223,1085 C400,1180 560,1320 646,1466 L763,1466 Z" transform="translate(234.04,870.70) scale(0.010498,-0.010498)" fill="#111" stroke="#111" stroke-width="33"/><g class="tk"><text x="245.00" y="870.7">0</text></g><g class="tk" text-anchor="middle"></g><path d="M763,0 L583,0 L583,1147 L223,911 L223,1085 C400,1180 560,1320 646,1466 L763,1466 Z" transform="translate(289.74,870.70) scale(0.010498,-0.010498)" fill="#111" stroke="#111" stroke-width="33"/><g class="tk"><text x="300.70" y="870.7">5</text></g><g class="tk" text-anchor="middle"><text x="356.4" y="870.7">20</text>
</g>

<path class="ax" d="M525.7,545.25 H534.2 M525.7,545.25 V839.3 H731.5 M525.7,637.5 H534.2 M525.7,728.25 H534.2 M525.7,820.8 H534.2 M577.5,839.3 V830.8 M629.6,839.3 V830.8 M680.3,839.3 V830.8 M731.5,839.3 V830.8"/>
<g class="tk" text-anchor="end">
<text x="517.5" y="553">2</text></g><path d="M763,0 L583,0 L583,1147 L223,911 L223,1085 C400,1180 560,1320 646,1466 L763,1466 Z" transform="translate(488.11,644.60) scale(0.010498,-0.010498)" fill="#111" stroke="#111" stroke-width="33"/><g class="tk"><text x="499.57" y="644.6">.5</text></g><g class="tk" text-anchor="end"></g><path d="M763,0 L583,0 L583,1147 L223,911 L223,1085 C400,1180 560,1320 646,1466 L763,1466 Z" transform="translate(506.04,736.50) scale(0.010498,-0.010498)" fill="#111" stroke="#111" stroke-width="33"/><g class="tk" text-anchor="end"><text x="517.5" y="829.2">0.5</text>
</g>
<g class="tk" text-anchor="middle">
<text x="525.8" y="870.7">0</text><text x="577.5" y="870.7">5</text></g><path d="M763,0 L583,0 L583,1147 L223,911 L223,1085 C400,1180 560,1320 646,1466 L763,1466 Z" transform="translate(618.64,870.70) scale(0.010498,-0.010498)" fill="#111" stroke="#111" stroke-width="33"/><g class="tk"><text x="629.60" y="870.7">0</text></g><g class="tk" text-anchor="middle"></g><path d="M763,0 L583,0 L583,1147 L223,911 L223,1085 C400,1180 560,1320 646,1466 L763,1466 Z" transform="translate(669.34,870.70) scale(0.010498,-0.010498)" fill="#111" stroke="#111" stroke-width="33"/><g class="tk"><text x="680.30" y="870.7">5</text></g><g class="tk" text-anchor="middle"><text x="731.5" y="870.7">20</text>
</g>

<g class="lg">
<text x="234.3" y="563" fill="#111">Intact + Veh</text>
<text x="233.3" y="588" fill="#1a1aa6">Trimmed + Veh</text>
<text x="233.3" y="613" fill="#b41a28">Trimmed + VU</text>
<text x="656.3" y="563" fill="#111">Intact + Veh</text>
<text x="655.3" y="588" fill="#1a1aa6">Trimmed + Veh</text>
<text x="655.3" y="613" fill="#b41a28">Trimmed + VU</text>
</g>
<path d="M157.6,536.2 H203.7 M543.8,536.3 H585.4" stroke="#111" stroke-width="2.2"/>
</g>
</svg>
</body></html>
